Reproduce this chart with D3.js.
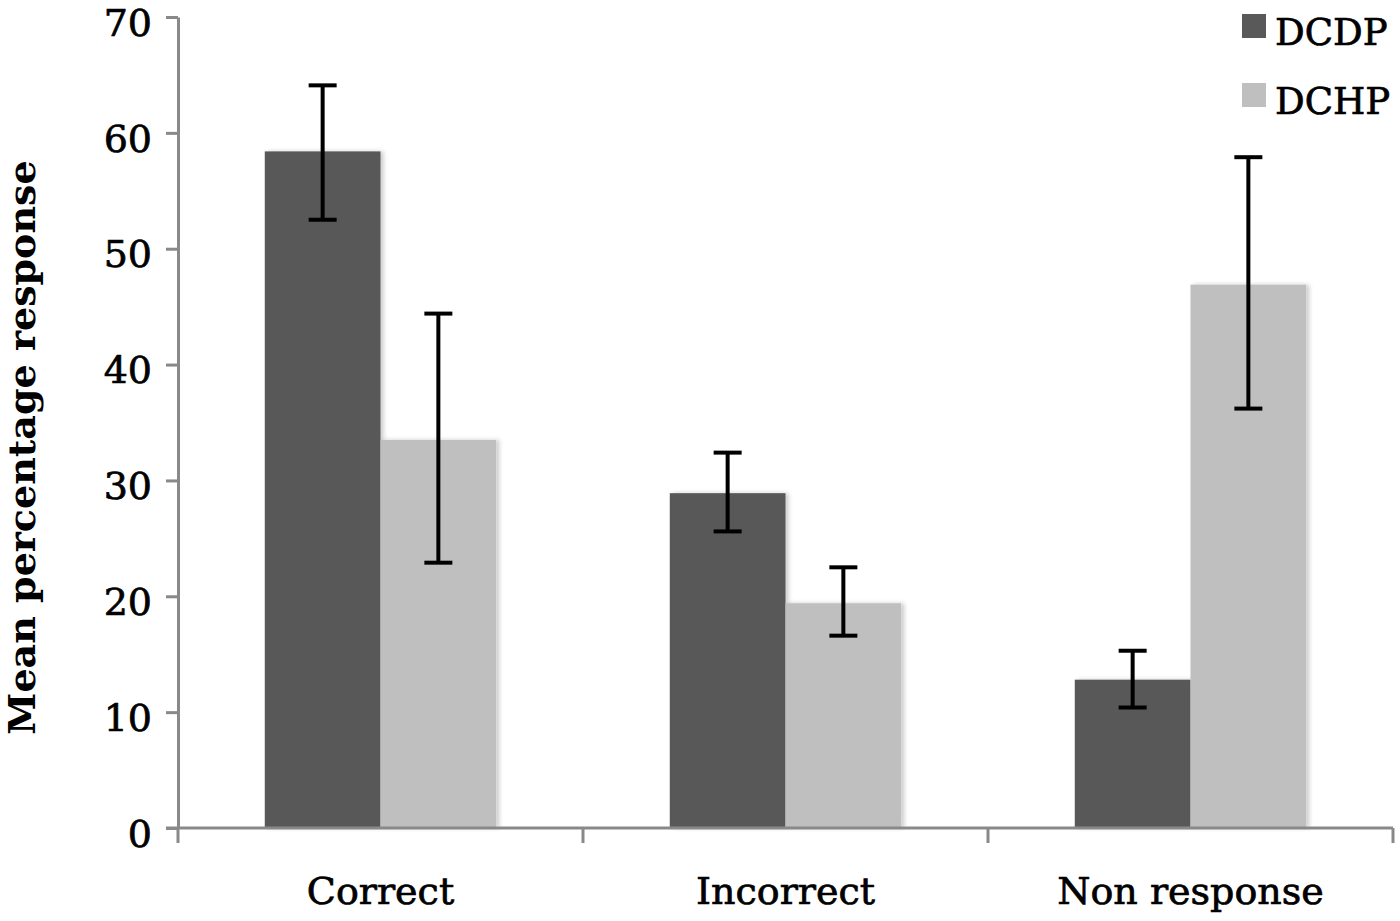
<!DOCTYPE html>
<html>
<head>
<meta charset="utf-8">
<script src="https://cdn.jsdelivr.net/npm/d3@7"></script>
<style>
  body { margin: 0; background: #fff; }
  text { font-family: "DejaVu Serif", "Liberation Serif", serif; }
</style>
</head>
<body>
<script>
const categories = ["Correct", "Incorrect", "Non response"];
const seriesNames = ["DCDP", "DCHP"];
const dcdpValues = [58.4, 28.9, 12.8];
const dcdpErrHigh = [64.1, 32.4, 15.3];
const dcdpErrLow = [52.5, 25.6, 10.4];
const dchpValues = [33.5, 19.4, 46.9];
const dchpErrHigh = [44.4, 22.5, 57.9];
const dchpErrLow = [22.9, 16.6, 36.2];
const yTicks = [0, 10, 20, 30, 40, 50, 60, 70];

const colors = { DCDP: "#595959", DCHP: "#bfbfbf" };

const width = 1400, height = 921;
const margin = { top: 17, right: 7, bottom: 93, left: 178 };

const rows = [];
categories.forEach((c, i) => {
	rows.push({ cat: c, key: "DCDP", value: dcdpValues[i], hi: dcdpErrHigh[i], lo: dcdpErrLow[i] });
	rows.push({ cat: c, key: "DCHP", value: dchpValues[i], hi: dchpErrHigh[i], lo: dchpErrLow[i] });
});

const x = d3.scaleBand().domain(categories).range([margin.left, width - margin.right]);
const xInner = d3.scaleBand().domain(seriesNames).range([0, x.bandwidth()]).paddingOuter(0.75);
const y = d3.scaleLinear().domain([0, 70]).range([height - margin.bottom, margin.top]);

const svg = d3.select("body").append("svg")
	.attr("width", width)
	.attr("height", height);

const defs = svg.append("defs");
const f = defs.append("filter").attr("id", "shadow").attr("x", "-10%").attr("y", "-10%").attr("width", "130%").attr("height", "130%");
f.append("feDropShadow").attr("dx", 3).attr("dy", 0).attr("stdDeviation", 2).attr("flood-color", "#000").attr("flood-opacity", 0.2);

// bars
svg.append("g")
	.selectAll("rect")
	.data(rows)
	.enter()
	.append("rect")
		.attr("x", d => x(d.cat) + xInner(d.key))
		.attr("y", d => y(d.value))
		.attr("width", xInner.bandwidth())
		.attr("height", d => y(0) - y(d.value))
		.attr("fill", d => colors[d.key])
		.attr("filter", "url(#shadow)");

// axes
const axisColor = "#898989";
const yAxis = svg.append("g")
	.attr("transform", `translate(${margin.left},0)`)
	.call(d3.axisLeft(y).tickValues(yTicks).tickSize(12).tickPadding(14).tickSizeOuter(0));
yAxis.select(".domain").attr("stroke", axisColor).attr("stroke-width", 3);
yAxis.selectAll(".tick line").attr("stroke", axisColor).attr("stroke-width", 3);
yAxis.selectAll(".tick text")
	.attr("font-size", 38).attr("fill", "#000").attr("dy", "0.48em")
	.attr("stroke", "#000").attr("stroke-width", 0.7);

const boundaries = categories.map(c => x(c)).concat([width - margin.right]);
const xAxis = svg.append("g").attr("transform", `translate(0,${y(0)})`);
xAxis.append("line")
	.attr("x1", margin.left - 12).attr("x2", width - margin.right)
	.attr("stroke", axisColor).attr("stroke-width", 3);
xAxis.selectAll("line.tk")
	.data(boundaries)
	.enter()
	.append("line")
		.attr("class", "tk")
		.attr("x1", d => d).attr("x2", d => d)
		.attr("y1", 0).attr("y2", 15)
		.attr("stroke", axisColor).attr("stroke-width", 3);
xAxis.selectAll("text")
	.data(categories)
	.enter()
	.append("text")
		.attr("x", d => x(d) + x.bandwidth() / 2)
		.attr("y", 76)
		.attr("text-anchor", "middle")
		.attr("font-size", 38)
		.attr("stroke", "#000").attr("stroke-width", 0.7)
		.text(d => d);

// error bars
const eb = svg.append("g").attr("stroke", "#000").attr("stroke-width", 4);
rows.forEach(d => {
	const cx = x(d.cat) + xInner(d.key) + xInner.bandwidth() / 2;
	eb.append("line").attr("x1", cx).attr("x2", cx).attr("y1", y(d.hi)).attr("y2", y(d.lo));
	eb.append("line").attr("x1", cx - 14).attr("x2", cx + 14).attr("y1", y(d.hi)).attr("y2", y(d.hi));
	eb.append("line").attr("x1", cx - 14).attr("x2", cx + 14).attr("y1", y(d.lo)).attr("y2", y(d.lo));
});

// y label
svg.append("text")
	.attr("transform", `translate(35,${(y(0) + y(70)) / 2 + 25}) rotate(-90)`)
	.attr("text-anchor", "middle")
	.attr("font-size", 38)
	.attr("font-weight", "bold")
	.text("Mean percentage response");

// legend
const legend = svg.append("g").selectAll("g")
	.data(seriesNames)
	.enter()
	.append("g")
		.attr("transform", (d, i) => `translate(1242,${14 + i * 69})`);
legend.append("rect").attr("width", 24).attr("height", 24).attr("fill", d => colors[d]);
legend.append("text").attr("x", 33).attr("y", 17).attr("dy", "0.38em").attr("font-size", 37)
	.attr("stroke", "#000").attr("stroke-width", 0.7)
	.text(d => d);
</script>
</body>
</html>
